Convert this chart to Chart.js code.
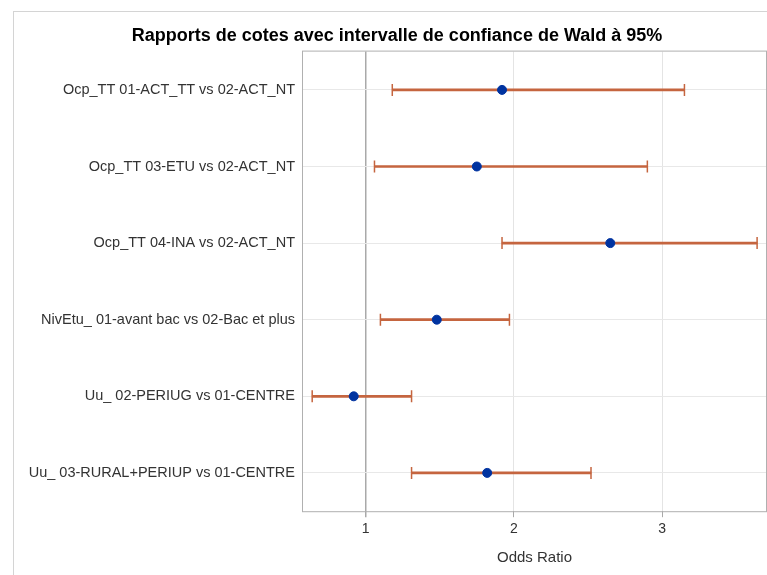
<!DOCTYPE html>
<html>
<head>
<meta charset="utf-8">
<script src="https://cdn.jsdelivr.net/npm/chart.js@4.4.0/dist/chart.umd.min.js"></script>
<style>
  html, body { margin: 0; padding: 0; background: #fff; overflow: hidden; }
  #frame { position: absolute; left: 13px; top: 11px; width: 780px; height: 600px;
           border: 1px solid #d4d4d4; box-sizing: border-box; }
  #wrap { position: absolute; left: 0; top: 0; width: 766px; height: 563px; }
</style>
</head>
<body>
<div id="frame"><div id="wrap"><canvas id="orChart"></canvas></div></div>
<script>
// Rapports de cotes (odds ratios) et bornes de Wald 95%
const categories = [
  'Ocp_TT 01-ACT_TT vs 02-ACT_NT',
  'Ocp_TT 03-ETU vs 02-ACT_NT',
  'Ocp_TT 04-INA vs 02-ACT_NT',
  'NivEtu_ 01-avant bac vs 02-Bac et plus',
  'Uu_ 02-PERIUG vs 01-CENTRE',
  'Uu_ 03-RURAL+PERIUP vs 01-CENTRE'
];
const oddsRatio = [1.92, 1.75, 2.65, 1.48, 0.92, 1.82];
const lowerCL = [1.18, 1.06, 1.92, 1.10, 0.64, 1.31];
const upperCL = [3.15, 2.90, 3.64, 1.97, 1.31, 2.52];
const xTicks = [1, 2, 3];

const barColor = '#c5653f';
const dotColor = '#0033a0';
const font = 'Liberation Sans, Arial';

// cadre de la zone de tracé
const plotBorder = {
  id: 'plotBorder',
  afterDraw(chart) {
    const a = chart.chartArea, c = chart.ctx;
    c.save();
    c.strokeStyle = '#b0b0b0';
    c.lineWidth = 1;
    c.strokeRect(a.left - 0.5, a.top - 0.5, a.right - a.left + 1, a.bottom - a.top + 1);
    c.restore();
  }
};

const caps = [];
categories.forEach((cat, i) => {
  caps.push({ x: lowerCL[i], y: cat });
  caps.push({ x: upperCL[i], y: cat });
});

const ctx = document.getElementById('orChart').getContext('2d');
new Chart(ctx, {
  type: 'bar',
  data: {
    labels: categories,
    datasets: [
      {
        type: 'scatter',
        data: categories.map((cat, i) => ({ x: oddsRatio[i], y: cat })),
        backgroundColor: dotColor,
        borderColor: dotColor,
        pointRadius: 4.5,
        pointHoverRadius: 4.5,
        order: 0
      },
      {
        type: 'scatter',
        data: caps,
        pointStyle: 'line',
        rotation: 90,
        pointRadius: 6,
        borderColor: barColor,
        borderWidth: 1.5,
        order: 1
      },
      {
        type: 'bar',
        indexAxis: 'y',
        data: categories.map((cat, i) => [lowerCL[i], upperCL[i]]),
        backgroundColor: barColor,
        barThickness: 2,
        order: 2
      }
    ]
  },
  options: {
    responsive: true,
    maintainAspectRatio: false,
    animation: false,
    indexAxis: 'y',
    layout: { padding: { left: 14, right: 14, top: 0, bottom: 8 } },
    plugins: {
      legend: { display: false },
      tooltip: { enabled: false },
      title: {
        display: true,
        text: 'Rapports de cotes avec intervalle de confiance de Wald à 95%',
        color: '#000',
        font: { family: font, size: 18, weight: 'bold' },
        padding: { top: 13, bottom: 5 }
      }
    },
    scales: {
      x: {
        type: 'linear',
        min: 0.578,
        max: 3.70,
        afterBuildTicks: axis => { axis.ticks = xTicks.map(v => ({ value: v })); },
        grid: {
          color: c => (c.tick && c.tick.value === 1) ? '#a9a9a9' : '#e4e4e4',
          tickColor: '#a9a9a9',
          tickLength: 6,
          lineWidth: c => (c.tick && c.tick.value === 1) ? 1.5 : 1
        },
        border: { display: false },
        ticks: { color: '#333', font: { family: font, size: 14 }, padding: 4 },
        title: {
          display: true,
          text: 'Odds Ratio',
          color: '#333',
          font: { family: font, size: 15 },
          padding: { top: 7, bottom: 0 }
        }
      },
      y: {
        type: 'category',
        labels: categories,
        offset: true,
        afterFit: axis => { axis.width = 275; },
        grid: { offset: false, color: '#e8e8e8', drawTicks: false },
        border: { display: false },
        ticks: { color: '#333', font: { family: font, size: 14.5 }, padding: 8 }
      }
    }
  },
  plugins: [plotBorder]
});
</script>
</body>
</html>
